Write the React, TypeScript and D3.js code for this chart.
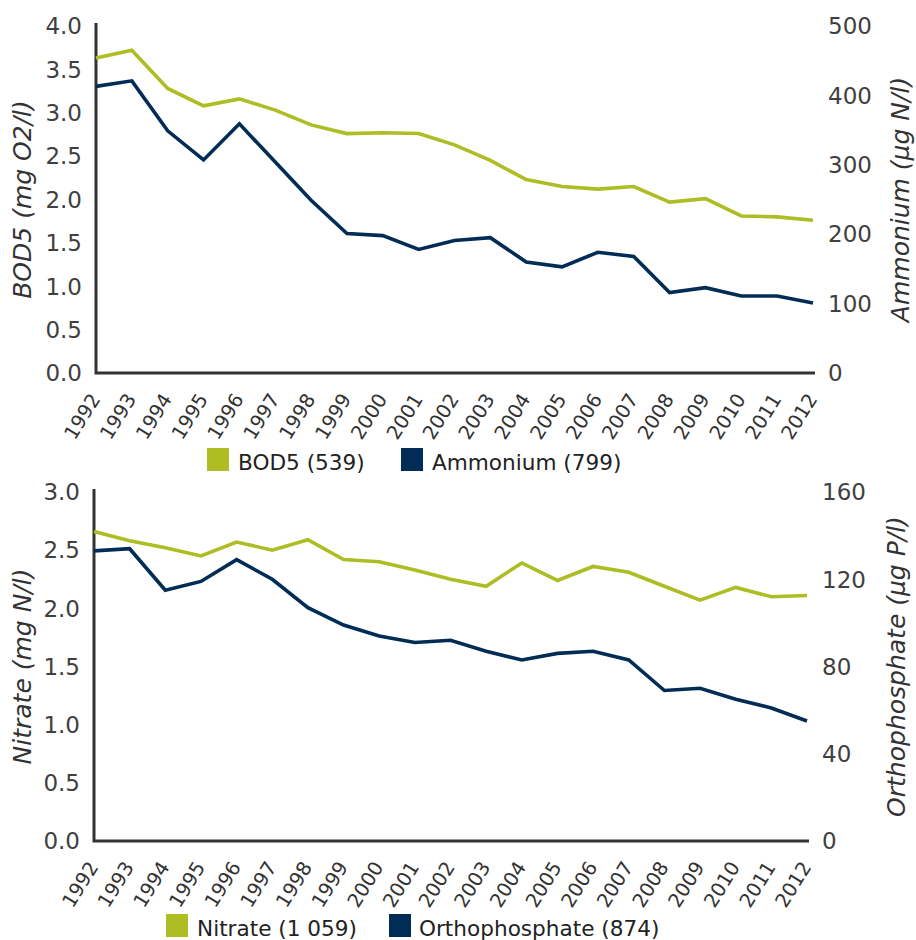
import React, { useEffect, useRef } from "react";
import * as d3 from "d3";

// years on the x axis
const years = [
  "1992", "1993", "1994", "1995", "1996", "1997", "1998", "1999", "2000", "2001", "2002",
  "2003", "2004", "2005", "2006", "2007", "2008", "2009", "2010", "2011", "2012",
];

// top panel
const bod5 = [3.63, 3.72, 3.28, 3.08, 3.16, 3.03, 2.86, 2.76, 2.77, 2.76, 2.63, 2.45, 2.23, 2.15, 2.12, 2.15, 1.97, 2.01, 1.81, 1.8, 1.76];
const ammonium = [413, 421, 349, 307, 359, 304, 249, 201, 198, 178, 191, 195, 160, 153, 174, 168, 116, 123, 111, 111, 101];

// bottom panel
const nitrate = [2.66, 2.58, 2.52, 2.45, 2.57, 2.5, 2.59, 2.42, 2.4, 2.33, 2.25, 2.19, 2.39, 2.24, 2.36, 2.31, 2.19, 2.07, 2.18, 2.1, 2.11];
const orthophosphate = [133, 134, 115, 119, 129, 120, 107, 99, 94, 91, 92, 87, 83, 86, 87, 83, 69, 70, 65, 61, 55];

const leftTicksTop = [0, 0.5, 1, 1.5, 2, 2.5, 3, 3.5, 4];
const rightTicksTop = [0, 100, 200, 300, 400, 500];
const leftTicksBottom = [0, 0.5, 1, 1.5, 2, 2.5, 3];
const rightTicksBottom = [0, 40, 80, 120, 160];

const GREEN = "#AEBD23";
const NAVY = "#002C55";
const FONT = "'DejaVu Sans', Verdana, sans-serif";

function drawPanel(g, cfg) {
  const x = d3.scalePoint().domain(years).range([cfg.x0, cfg.x1]);
  const yl = d3.scaleLinear().domain(cfg.leftDomain).range([cfg.bottom, cfg.top]);
  const yr = d3.scaleLinear().domain(cfg.rightDomain).range([cfg.bottom, cfg.top]);

  // left tick labels
  g.selectAll(".ltick")
    .data(cfg.leftTicks)
    .join("text")
    .attr("class", "ltick")
    .attr("x", cfg.x0 - 14)
    .attr("y", (d) => yl(d))
    .attr("dy", "0.36em")
    .style("text-anchor", "end")
    .style("font-family", FONT)
    .style("font-size", "23px")
    .style("fill", "#404040")
    .text((d) => d3.format(".1f")(d));

  // right tick labels
  g.selectAll(".rtick")
    .data(cfg.rightTicks)
    .join("text")
    .attr("class", "rtick")
    .attr("x", cfg.x1 + 15)
    .attr("y", (d) => yr(d))
    .attr("dy", "0.36em")
    .style("text-anchor", "start")
    .style("font-family", FONT)
    .style("font-size", "23px")
    .style("fill", "#404040")
    .text((d) => d);

  // year labels
  g.selectAll(".year")
    .data(years)
    .join("text")
    .attr("class", "year")
    .attr("transform", (d) => `translate(${x(d) + 5},${cfg.bottom + 26}) rotate(-58)`)
    .style("text-anchor", "end")
    .style("font-family", FONT)
    .style("font-size", "19.5px")
    .style("fill", "#333")
    .text((d) => d);

  // axis lines
  g.append("path")
    .attr("d", `M${cfg.x0},${cfg.top - 3}V${cfg.bottom}H${cfg.x1 + 2}`)
    .attr("fill", "none")
    .attr("stroke", "#333")
    .attr("stroke-width", 3);

  // series lines
  const lineL = d3.line().x((d, i) => x(years[i])).y((d) => yl(d));
  const lineR = d3.line().x((d, i) => x(years[i])).y((d) => yr(d));
  g.append("path")
    .attr("d", lineL(cfg.leftData))
    .attr("fill", "none")
    .attr("stroke", GREEN)
    .attr("stroke-width", 3.6);
  g.append("path")
    .attr("d", lineR(cfg.rightData))
    .attr("fill", "none")
    .attr("stroke", NAVY)
    .attr("stroke-width", 3.6);

  // axis titles
  const cy = (cfg.top + cfg.bottom) / 2;
  g.append("text")
    .attr("transform", `translate(${cfg.leftTitleX},${cy}) rotate(-90)`)
    .style("text-anchor", "middle")
    .style("font-family", FONT)
    .style("font-style", "italic")
    .style("font-size", "25px")
    .style("fill", "#333")
    .text(cfg.leftTitle);
  g.append("text")
    .attr("transform", `translate(${cfg.rightTitleX},${cy}) rotate(-90)`)
    .style("text-anchor", "middle")
    .style("font-family", FONT)
    .style("font-style", "italic")
    .style("font-size", "25px")
    .style("fill", "#333")
    .text(cfg.rightTitle);

  // legend
  const lg = g.append("g");
  cfg.legend.forEach((item) => {
    lg.append("rect")
      .attr("x", item.sx)
      .attr("y", cfg.legendY - 22)
      .attr("width", 22)
      .attr("height", 23)
      .attr("fill", item.color);
    lg.append("text")
      .attr("x", item.tx)
      .attr("y", cfg.legendY)
      .style("font-family", FONT)
      .style("font-size", "21.6px")
      .style("fill", "#222")
      .text(item.label);
  });
}

export default function App() {
  const ref = useRef(null);

  useEffect(() => {
    const svg = d3.select(ref.current);
    svg.selectAll("*").remove();

    drawPanel(svg.append("g"), {
      x0: 96, x1: 813, top: 26, bottom: 373,
      leftDomain: [0, 4], rightDomain: [0, 500],
      leftTicks: leftTicksTop, rightTicks: rightTicksTop,
      leftData: bod5, rightData: ammonium,
      leftTitle: "BOD5 (mg O2/l)", rightTitle: "Ammonium (µg N/l)",
      leftTitleX: 31, rightTitleX: 909,
      legendY: 470,
      legend: [
        { color: GREEN, label: "BOD5 (539)", sx: 207, tx: 238 },
        { color: NAVY, label: "Ammonium (799)", sx: 401, tx: 432 },
      ],
    });

    drawPanel(svg.append("g"), {
      x0: 94, x1: 807, top: 492, bottom: 841,
      leftDomain: [0, 3], rightDomain: [0, 160],
      leftTicks: leftTicksBottom, rightTicks: rightTicksBottom,
      leftData: nitrate, rightData: orthophosphate,
      leftTitle: "Nitrate (mg N/l)", rightTitle: "Orthophosphate (µg P/l)",
      leftTitleX: 31, rightTitleX: 905,
      legendY: 936,
      legend: [
        { color: GREEN, label: "Nitrate (1 059)", sx: 166, tx: 197 },
        { color: NAVY, label: "Orthophosphate (874)", sx: 389, tx: 419 },
      ],
    });
  }, []);

  return (
    <svg
      ref={ref}
      width={916}
      height={940}
      style={{ position: "absolute", left: 0, top: 0, background: "#fff" }}
    ></svg>
  );
}
